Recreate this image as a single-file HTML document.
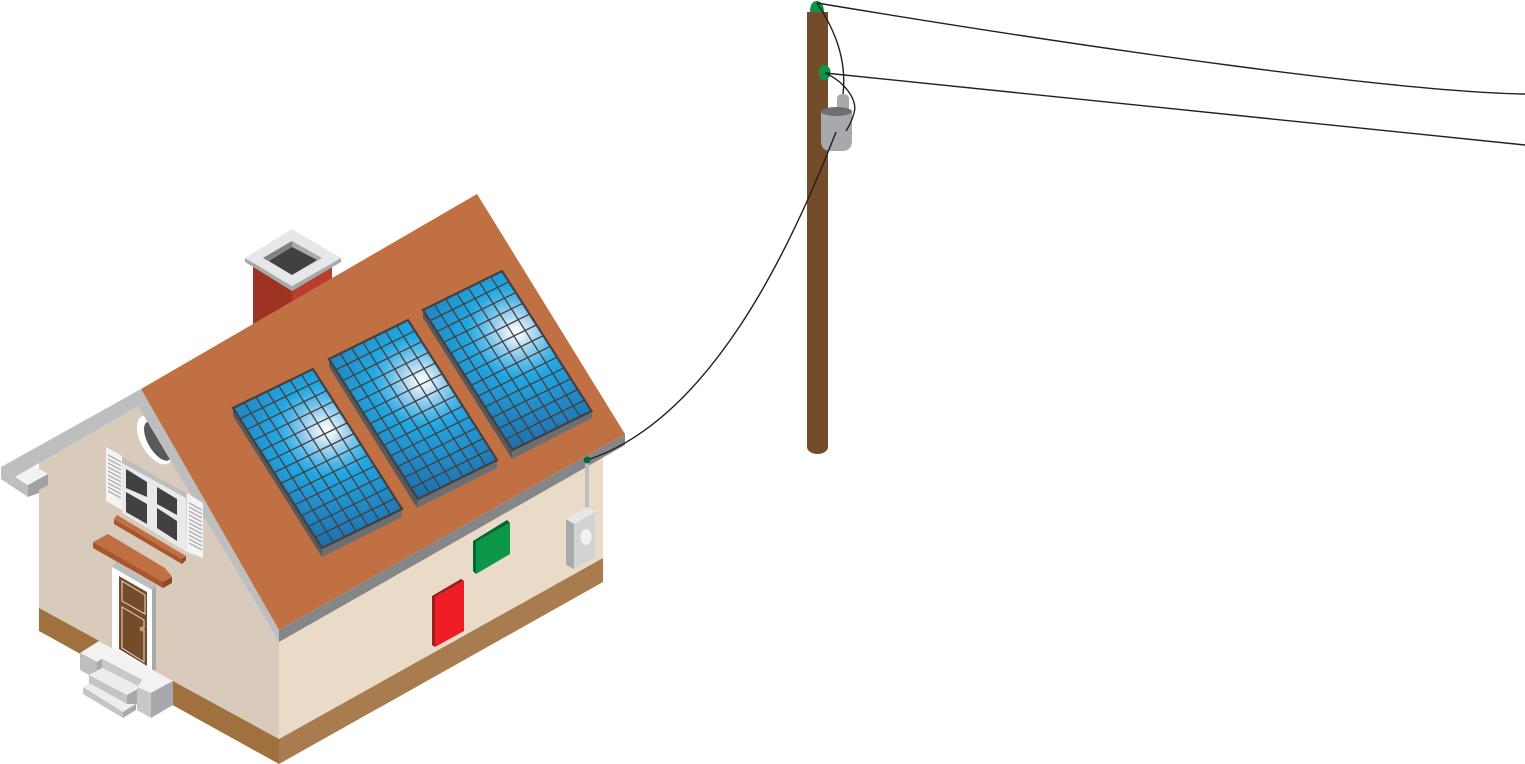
<!DOCTYPE html>
<html>
<head>
<meta charset="utf-8">
<style>
html,body{margin:0;padding:0;background:#fff;width:1525px;height:764px;overflow:hidden}
svg{display:block}
</style>
</head>
<body>
<svg width="1525" height="764" viewBox="0 0 1525 764" xmlns="http://www.w3.org/2000/svg">
<defs>
<radialGradient id="sun" cx="5.3" cy="4.8" r="10" gradientUnits="userSpaceOnUse">
<stop offset="0" stop-color="#ffffff"/>
<stop offset="0.05" stop-color="#e6f2fa"/>
<stop offset="0.15" stop-color="#a3d3ef"/>
<stop offset="0.27" stop-color="#55b9e8"/>
<stop offset="0.37" stop-color="#22a7e1"/>
<stop offset="0.72" stop-color="#2283bf"/>
<stop offset="1" stop-color="#1e6ba8"/>
</radialGradient>
<g id="panel">
<rect x="0" y="0" width="7" height="13" fill="url(#sun)"/>
<path d="M1 0V13M2 0V13M3 0V13M4 0V13M5 0V13M6 0V13M0 1H7M0 2H7M0 3H7M0 4H7M0 5H7M0 6H7M0 7H7M0 8H7M0 9H7M0 10H7M0 11H7M0 12H7" fill="none" stroke="#414042" stroke-width="1.3" vector-effect="non-scaling-stroke"/>
<rect x="0" y="0" width="7" height="13" fill="none" stroke="#414042" stroke-width="2.2" vector-effect="non-scaling-stroke"/>
</g>
</defs>

<!-- wires and pole -->
<path d="M807 12 H828 V447 C828 451 823 454 817.5 454 C812 454 807 451 807 447 Z" fill="#754C29"/>
<path d="M810 12 C810 4 813 1 817 1 C821 1 824 5 824 12 Z" fill="#0A9548"/>
<ellipse cx="824.5" cy="72.5" rx="6" ry="7.5" fill="#0A9548"/>
<path d="M837 111 V99 Q837 94 843 94 Q849 94 849 99 V111 Z" fill="#A7A9AC"/>
<path d="M821 112 H852 V141 Q852 151 842 151 H831 Q821 151 821 141 Z" fill="#A7A9AC"/>
<ellipse cx="836.5" cy="111.5" rx="15.5" ry="4.5" fill="#6D6E71"/>
<g fill="none" stroke="#231F20" stroke-width="1.4">
<path d="M817 3 C1100 50 1400 92 1525 94"/>
<path d="M825 73 L1525 145"/>
<path d="M817 3 C835 30 847 60 843 94"/>
<path d="M825 73 C845 82 858 100 854 113 C852 121 849 126 846 131"/>
</g>

<!-- chimney -->
<polygon points="253,262 292,288 292,310 253,330" fill="#9E3223"/>
<polygon points="292,288 332,265 332,290 292,310" fill="#B93E2B"/>
<polygon points="245,258 292,286 292,291 245,262" fill="#A7A9AC"/>
<polygon points="292,286 341,258 341,262 292,291" fill="#A7A9AC"/>
<polygon points="292,229 341,258 292,286 245,258" fill="#E6E7E8"/>
<polygon points="292,241 322,258 292,275 263,258" fill="#A7A9AC"/>
<polygon points="292,241 263,258 269,261 292,247" fill="#808285"/>
<polygon points="292,247 317,260 292,275 269,261" fill="#414042"/>

<!-- walls -->
<polygon points="39,463 138,404 279,642 279,739 39,608" fill="#D9CBBB"/>
<polygon points="39,608 279,739 279,764 39,631" fill="#A0703F"/>
<polygon points="279,642 603,457 603,558 279,739" fill="#EADBC8"/>
<polygon points="279,739 603,558 603,582 279,764" fill="#A97C50"/>

<!-- oval window -->
<ellipse cx="155" cy="440" rx="14" ry="27" transform="rotate(-30 155 440)" fill="#fff"/>
<ellipse cx="158" cy="441" rx="10" ry="22" transform="rotate(-30 158 441)" fill="#58595B"/>

<!-- fascia -->
<polygon points="1,467 141,389 279,630 279,642 138,406 34,466 15,477 28,485 28,497 1,479" fill="#BCBEC0"/>
<polygon points="15,477 34,466 48,474 28,485" fill="#F2F2F2"/>
<polygon points="28,485 48,474 48,485 39,490 39,493 28,497" fill="#A0A2A5"/>

<!-- roof -->
<polygon points="141,389 477,194 625,434 279,630" fill="#C17043"/>
<polygon points="279,630 625,434 625,445 279,642" fill="#858688"/>

<!-- panels -->
<polygon points="233,408 322,549 322,557 233,416" fill="#58595B"/>
<polygon points="322,549 402,509 402,517 322,557" fill="#6D6E71"/>
<use href="#panel" transform="matrix(11.43,-5.57,6.846,10.77,233,408)"/>
<polygon points="329,359 418,499 417,508 329,367" fill="#58595B"/>
<polygon points="418,499 497,460 497,468 417,508" fill="#6D6E71"/>
<use href="#panel" transform="matrix(11.29,-5.57,6.846,10.77,329,359)"/>
<polygon points="423,310 512,451 512,459 423,318" fill="#58595B"/>
<polygon points="512,451 592,410 592,418 512,459" fill="#6D6E71"/>
<use href="#panel" transform="matrix(11.29,-5.57,6.885,10.77,423,310)"/>

<!-- shutters & window -->
<polygon points="106,447 122,456 122,510 106,501" fill="#F4F4F4"/>
<g stroke="#B0B2B4" stroke-width="1.5">
<path d="M108 455L121 462M108 459L121 466M108 463L121 470M108 467L121 474M108 471L121 478M108 475L121 482M108 479L121 486M108 483L121 490M108 487L121 494M108 491L121 498"/>
</g>
<polygon points="187,493 203,503 203,558 187,552" fill="#F4F4F4"/>
<g stroke="#B0B2B4" stroke-width="1.5">
<path d="M189 503L202 510M189 507L202 514M189 511L202 518M189 515L202 522M189 519L202 526M189 523L202 530M189 527L202 534M189 531L202 538M189 535L202 542M189 539L202 546M189 543L202 550"/>
</g>
<polygon points="122,457 186,493 186,498 122,463" fill="#BCBEC0"/>
<polygon points="122,463 186,498 187,552 122,513" fill="#E9E9EA"/>
<polygon points="126,469 147,482 147,497 126,488" fill="#414042"/>
<polygon points="126,492 147,504 147,524 126,512" fill="#414042"/>
<polygon points="157,487 177,499 177,515 157,504" fill="#414042"/>
<polygon points="157,508 177,521 177,541 157,528" fill="#414042"/>
<polygon points="117,515 186,556 182,559 114,519" fill="#C17043"/>
<polygon points="114,519 182,559 182,564 114,524" fill="#A9552D"/>
<polygon points="182,559 186,556 186,560 182,564" fill="#8F4724"/>

<!-- door -->
<polygon points="112,567 116,562 156,585 152,590" fill="#BCBEC0"/>
<polygon points="152,590 156,585 156,670 152,670" fill="#A7A9AC"/>
<polygon points="112,567 152,590 152,672 112,650" fill="#fff"/>
<polygon points="119,576 147,592 147,666 119,649" fill="#754C29"/>
<polygon points="122,581 145,595 145,614 122,601" fill="none" stroke="#EADBC8" stroke-width="1"/>
<polygon points="122,607 144,620 144,662 122,648" fill="none" stroke="#EADBC8" stroke-width="1"/>
<circle cx="142" cy="629" r="2.5" fill="#C69C6D"/>

<!-- awning -->
<polygon points="93,542 108,534 165,568 172,577 163,582" fill="#C17043"/>
<polygon points="93,542 163,582 163,588 93,548" fill="#A9552D"/>
<polygon points="163,582 172,577 172,583 163,588" fill="#8F4724"/>

<!-- steps -->
<polygon points="80,653 99,641 173,681 151,693 137,687 142,680 102,659 97,662" fill="#F2F2F2"/>
<polygon points="80,653 97,662 97,671 89,675 80,670" fill="#BCBEC0"/>
<polygon points="97,662 102,659 102,668 97,671" fill="#A7A9AC"/>
<polygon points="102,659 142,680 138,686 102,668" fill="#C7C8CA"/>
<polygon points="89,675 102,668 138,686 127,695" fill="#EDEDEE"/>
<polygon points="89,675 127,695 127,704 89,683" fill="#C2C4C6"/>
<polygon points="127,695 137,689 137,704 127,710" fill="#A7A9AC"/>
<polygon points="83,687 89,683 127,704 136,704 123,712" fill="#EDEDEE"/>
<polygon points="83,687 123,712 123,718 83,694" fill="#C2C4C6"/>
<polygon points="123,712 136,704 136,710 123,718" fill="#A7A9AC"/>
<polygon points="137,687 151,693 151,718 137,710" fill="#C7C8CA"/>
<polygon points="151,693 173,681 173,705 151,718" fill="#A7A9AC"/>

<!-- boxes on wall -->
<polygon points="473,541 507,520 510,523 476,542 476,574 473,571" fill="#006837"/>
<polygon points="476,542 510,523 510,554 476,574" fill="#0C9647"/>
<polygon points="432,596 461,579 464,581 435,597 435,647 432,645" fill="#9E1B1E"/>
<polygon points="435,597 464,581 464,631 435,647" fill="#EE1C25"/>

<!-- meter -->
<rect x="585" y="460" width="4" height="50" fill="#BCBEC0"/>
<polygon points="566,519 574,524 574,569 566,565" fill="#A7A9AC"/>
<polygon points="574,524 595,512 595,557 574,569" fill="#D1D3D4"/>
<polygon points="566,519 587,507 595,512 574,524" fill="#E6E7E8"/>
<ellipse cx="586" cy="537" rx="5.5" ry="8" fill="#F1F2F2"/>

<!-- service drop -->
<path d="M836 132 C790 250 710 420 587 460" fill="none" stroke="#231F20" stroke-width="1.4"/>
<circle cx="587" cy="460" r="3.5" fill="#00693A"/>
</svg>
</body>
</html>
